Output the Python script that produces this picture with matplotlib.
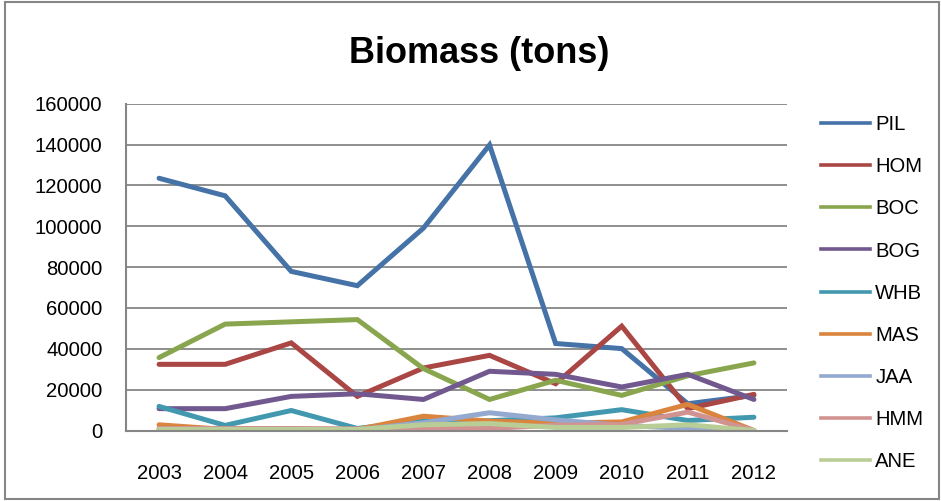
import matplotlib.pyplot as plt
from matplotlib.lines import Line2D
from matplotlib.patches import Rectangle

years = ['2003', '2004', '2005', '2006', '2007', '2008', '2009', '2010', '2011', '2012']

PIL = [123500, 114900, 77900, 70900, 99100, 139800, 42600, 40100, 13100, 17200]
HOM = [32400, 32400, 42900, 16700, 30600, 36800, 22900, 51100, 10700, 17700]
BOC = [35700, 52100, 53200, 54300, 30300, 15200, 24600, 17200, 26800, 33100]
BOG = [10700, 10700, 16700, 18000, 15200, 29000, 27500, 21300, 27500, 15200]
WHB = [11800, 2500, 9800, 1000, 4800, 4800, 6200, 10200, 4900, 6500]
MAS = [2800, 500, 500, 500, 7000, 4600, 3600, 4200, 12800, 0]
JAA = [500, 300, 300, 300, 3800, 8700, 5200, 2500, 1000, 0]
HMM = [1000, 1000, 1000, 800, 1000, 1000, 2600, 3000, 9000, 0]
ANE = [500, 500, 500, 500, 2800, 3400, 1500, 1500, 2800, 0]

names = ['PIL', 'HOM', 'BOC', 'BOG', 'WHB', 'MAS', 'JAA', 'HMM', 'ANE']
series = [PIL, HOM, BOC, BOG, WHB, MAS, JAA, HMM, ANE]
colors = ['#4572A7', '#AA4643', '#89A54E', '#71588F', '#4198AF',
          '#DB843D', '#93A9CF', '#D19392', '#B9CD96']

plt.rcParams['font.family'] = ['Liberation Sans', 'DejaVu Sans']
grey = '#868686'

fig = plt.figure(figsize=(9.41, 5.01), dpi=100)
ax = fig.add_axes([0.1339, 0.1407, 0.7024, 0.6523])

x = list(range(len(years)))
for name, vals, c in zip(names, series, colors):
    ax.plot(x, vals, color=c, lw=3.6, solid_capstyle='round', solid_joinstyle='miter', label=name)

ax.set_xlim(-0.5, len(years) - 0.5)
ax.set_ylim(0, 160000)
ax.set_yticks(range(0, 160001, 20000))
ax.set_xticks(x)
ax.set_xticklabels(years)
ax.yaxis.grid(True, color=grey, lw=1.3)
ax.set_axisbelow(True)
ax.tick_params(length=0, labelsize=14.6)
ax.tick_params(axis='y', pad=17)
ax.tick_params(axis='x', pad=24)
for s in ['top', 'right']:
    ax.spines[s].set_visible(False)
for s in ['left', 'bottom']:
    ax.spines[s].set_color(grey)
    ax.spines[s].set_linewidth(1.5)

fig.text(0.509, 0.893, 'Biomass (tons)', ha='center', va='center',
         fontsize=26, fontweight='bold')

# legend with thinner sample lines
handles = [Line2D([0], [0], color=c, lw=2.6) for c in colors]
fig.legend(handles, names, loc='upper left', bbox_to_anchor=(0.873, 0.770),
           frameon=False, fontsize=14.6, handlelength=2.4, handletextpad=0.25,
           labelspacing=1.14, borderaxespad=0, borderpad=0)

fig.patches.append(Rectangle((0.005, 0.003), 0.993, 0.994, transform=fig.transFigure,
                             fill=False, edgecolor=grey, lw=1.5))

fig.savefig('out.png', dpi=100)
